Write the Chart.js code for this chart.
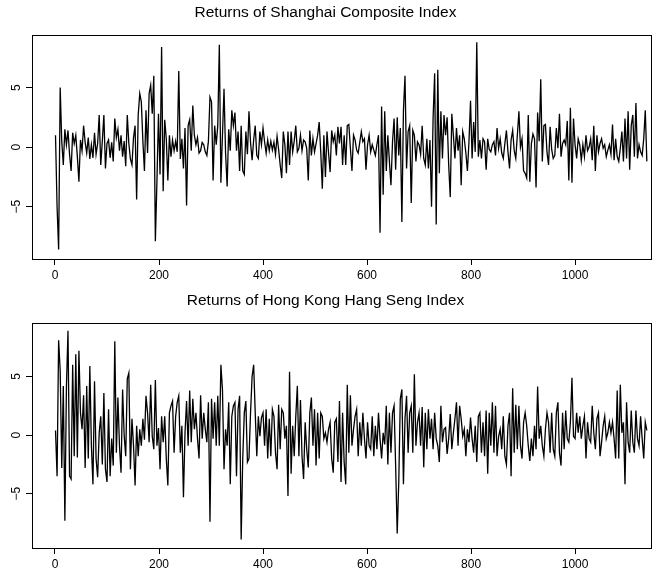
<!DOCTYPE html>
<html>
<head>
<meta charset="utf-8">
<script src="https://cdn.jsdelivr.net/npm/chart.js@4.4.1/dist/chart.umd.min.js"></script>
<style>
  html, body { margin: 0; padding: 0; background: #fff; }
  #wrap { position: relative; width: 660px; height: 571px; overflow: hidden; }
  canvas { position: absolute; left: 0; }
  #chartTop { top: 0; }
  #chartBottom { top: 288px; }
</style>
</head>
<body>
<div id="wrap">
  <canvas id="chartTop" width="660" height="290"></canvas>
  <canvas id="chartBottom" width="660" height="283"></canvas>
</div>
<script>
// one value every 3 trading days (day 1 .. 1138)
const stepDays = 3;

const titles = ['Returns of Shanghai Composite Index', 'Returns of Hong Kong Hang Seng Index'];
const xTickValues = [0, 200, 400, 600, 800, 1000];
const yTickValues = [-5, 0, 5];

const shanghaiReturns = [
  1.0, -5.0, -8.6, 5.0, 0.5, -1.5, 1.5, 0.2, 1.4, -0.6,
  -2.0, 1.2, 0.3, 1.0, -0.8, -2.9, 0.6, -0.3, 1.8, 0.4,
  -0.5, 0.8, -1.0, 0.2, -0.9, 1.2, -0.6, 0.3, 2.7, -1.5,
  0.5, 2.7, -1.8, 0.3, 0.6, -0.9, 0.4, -1.2, 2.4, 0.8,
  1.5, -0.3, 1.0, -0.8, 0.5, -1.6, 2.7, 0.3, -1.0, -1.5,
  0.8, 1.8, -4.4, 2.7, 4.5, 3.8, 0.5, -2.0, 3.1, -0.5,
  4.5, 5.2, 2.8, 6.0, -7.9, -2.9, 2.8, -2.3, 8.4, -3.7,
  2.3, 0.7, -2.8, 1.0, -0.8, 0.6, -0.3, 0.5, -0.4, 6.4,
  -1.0, 0.7, -1.8, 1.6, -4.9, 1.8, 2.3, -0.3, 3.5, 1.0,
  0.2, 0.8, -0.5, -0.3, 0.4, 0.2, -0.4, -0.7, 0.5, 4.2,
  3.8, -2.8, 1.8, 0.2, 1.8, 8.6, -3.0, 1.0, 4.9, -0.5,
  -3.3, 1.5, -0.3, 3.1, 1.8, 2.9, -0.3, 1.3, -2.0, 1.8,
  -2.0, -2.3, 1.3, -0.6, 3.0, 0.4, -1.1, 0.6, 1.8, -0.7,
  -0.95, 1.3, 0.2, 1.6, 0.45, -0.5, 0.6, -0.3, 0.5, -0.25,
  0.4, -0.6, 0.9, -0.2, -1.5, -2.6, 1.3, 0.2, -2.2, 1.3,
  -1.5, 1.3, -0.4, 0.5, 1.8, -0.4, -0.1, 1.0, -0.3, 0.6,
  0.45, -0.1, -2.8, 1.4, -0.7, 0.7, -0.4, 0.3, 1.0, 2.1,
  -0.4, -3.5, 1.0, -2.5, 1.3, -0.5, -2.1, 1.4, 0.45, 1.0,
  -0.7, 1.7, 0.3, 1.7, -1.5, 1.0, -1.5, 1.8, 1.9, -0.1,
  -2.0, 1.0, 0.6, -0.25, -0.5, 0.4, 1.3, 0.45, 0.7, -1.9,
  0.2, 1.0, -0.4, 0.2, -0.25, -0.7, 0.2, 1.0, -7.2, 3.4,
  -4.0, 3.0, -2.0, 1.0, -1.2, -3.2, 0.45, 2.4, -1.9, 2.5,
  -0.7, 1.6, -6.3, 3.1, 6.0, -1.8, 1.3, 1.8, -4.7, 1.4,
  1.0, -1.2, 0.45, 0.2, -0.6, 1.8, -0.95, -1.5, 0.7, -1.8,
  0.6, -5.0, 2.4, 6.2, -6.5, 6.5, -2.2, 3.0, -0.95, 2.7,
  1.0, 2.5, -1.5, -4.2, 2.8, 1.0, -0.95, 1.6, -0.3, 1.0,
  -3.2, 1.3, 0.7, -0.5, -2.0, 0.45, 3.9, -0.95, 2.1, -0.4,
  8.8, -0.8, 0.6, -0.95, 0.7, 0.45, -1.9, 0.7, -0.2, -0.4,
  0.2, 0.45, -0.7, 1.6, -0.1, 0.7, -0.5, -0.95, 0.3, 1.4,
  -0.4, -1.8, 0.6, 1.4, -0.3, -0.95, 1.0, 3.0, 0.0, 0.7,
  -2.0, -2.2, -2.6, 2.7, -2.9, 0.3, 1.1, 0.7, -3.4, 2.9,
  0.5, 5.7, -1.2, 1.8, 1.9, -0.4, -1.5, 1.7, -0.2, -0.95,
  -0.7, 1.6, -0.1, 2.8, -0.8, 0.3, 0.6, 0.2, 2.2, -2.8,
  3.3, -3.0, 2.4, 0.2, -0.95, 0.7, 0.2, -1.1, 0.2, -0.8,
  1.0, -0.3, 0.0, 0.7, -1.1, 1.8, -2.0, 1.0, -0.4, 0.3,
  0.7, -0.1, 0.2, -0.8, -0.25, 0.2, -0.6, 1.9, -1.1, 0.7,
  -0.8, -1.2, -0.1, 1.3, -1.2, 2.4, -0.95, 3.0, -1.9, 1.8,
  2.7, -0.8, 3.7, -0.95, 0.2, -0.4, -0.7, 0.7, 3.1, -1.2
];

const hangSengReturns = [
  0.4, -3.5, 8.1, 5.5, -2.8, 4.2, -7.3, 4.1, 8.9, -3.5,
  -3.75, 6.0, -1.8, 6.9, -1.9, 7.2, 1.9, 0.5, 3.4, -2.8,
  4.2, -2.0, 5.9, -0.9, -4.2, 4.6, -2.0, -3.6, 0.2, 1.6,
  -2.5, 3.6, -2.9, -4.0, 2.2, -3.5, -0.3, -2.6, 8.0, -1.5,
  3.2, -0.9, -3.2, 3.9, 0.0, -1.8, 4.8, 5.3, -2.9, 1.4,
  -0.9, -4.3, 0.8, -1.8, 0.5, -0.9, 1.4, -0.4, 3.35, 1.9,
  -0.6, 4.3, -0.1, -1.2, 4.7, -0.9, 0.6, -2.9, 1.6, -0.6,
  1.6, -2.0, -4.3, 1.9, 2.5, 2.9, -1.5, 1.6, 2.8, 3.35,
  -1.5, 0.8, -5.3, 0.2, 2.9, -0.9, 3.8, -0.6, 3.1, 0.5,
  1.9, -0.3, -2.0, 3.4, -0.3, 1.9, 0.5, -0.6, 2.8, -7.4,
  3.1, -0.3, 2.8, -0.9, 3.35, -0.9, 6.0, 3.9, -2.9, 0.5,
  -0.9, 2.8, -4.2, 1.6, 2.5, 2.8, -3.5, 2.2, 3.35, -8.9,
  -2.0, 1.9, 2.9, -2.3, -2.0, 1.9, 5.0, 6.0, 1.9, -1.8,
  1.6, -0.1, 1.5, 1.9, -0.9, 2.2, -2.0, 1.4, -1.8, 2.2,
  1.6, -1.5, -2.9, 2.6, -1.2, 2.2, 1.9, -0.3, 0.8, -5.2,
  5.4, -3.3, 0.8, -1.8, 1.6, 4.2, -1.8, 3.0, -1.8, -3.75,
  1.1, -1.2, -2.75, 1.9, 3.2, -0.9, 2.2, -2.6, 1.9, -2.0,
  1.9, 1.6, -0.3, 0.2, -0.6, 0.5, 1.1, -2.0, -3.2, 1.1,
  1.4, -2.3, 2.9, -4.0, 1.9, -2.3, -4.2, 4.3, -1.5, 3.4,
  -0.9, 0.5, 1.6, 2.2, -1.8, 1.1, -0.9, 1.9, -0.3, -2.0,
  1.1, -0.9, -1.2, 1.6, -1.8, 0.8, -1.2, 1.9, -0.3, -2.0,
  0.2, -0.8, 2.5, -2.5, 1.9, -1.5, 1.9, 2.5, -2.6, -8.4,
  -4.0, 3.1, 3.9, -4.2, 1.4, 3.35, -1.5, 1.9, 2.5, -1.5,
  5.2, -0.9, 1.1, 1.9, -0.9, 2.4, -2.75, 1.9, -1.2, 2.2,
  -0.3, 1.4, -1.2, 1.9, -0.3, -0.9, -2.3, 2.5, -0.6, 0.5,
  0.65, -1.6, -0.3, 1.8, -1.2, 0.2, 1.4, 2.8, -0.9, 2.5,
  1.4, -0.1, 0.5, -1.8, 0.5, -0.6, 1.5, -0.3, -1.5, 0.8,
  -2.3, 1.6, 1.9, -1.5, 1.1, -1.8, 2.1, -3.3, 1.9, -0.9,
  2.8, -1.5, 2.5, -1.8, -0.1, 0.5, -1.2, 1.6, -1.8, -2.5,
  0.8, 1.9, -3.5, 4.0, -1.5, 2.6, -1.2, 2.5, -0.9, -2.0,
  1.1, 1.9, 0.8, -0.9, -2.2, -0.3, -1.8, 0.8, -1.2, 4.15,
  -0.3, 0.8, -0.9, -1.8, 0.5, 1.9, 1.1, -1.5, 1.9, -1.2,
  -1.8, 1.9, 2.8, -1.5, -2.6, 1.9, -1.2, 2.1, -0.3, -0.6,
  1.1, 4.9, -0.1, -0.3, 1.9, 0.2, 1.6, -0.3, 0.8, 1.6,
  -2.0, 1.1, -0.3, -0.6, 2.5, 0.2, -1.2, 1.4, 1.9, -1.8,
  -0.6, 0.8, 1.6, -0.3, 0.2, 1.1, 0.2, 1.1, -0.3, -2.0,
  3.8, -2.0, 4.3, 0.2, 1.1, -4.2, 2.8, -0.6, -1.5, 2.1,
  -0.6, -1.5, 2.1, -0.3, -0.9, 1.6, -0.3, -2.0, 1.1, 0.4
];

// box round the plotting region, like R's box()
const boxPlugin = {
  id: 'plotBox',
  afterDraw(chart) {
    const a = chart.chartArea;
    const ctx = chart.ctx;
    ctx.save();
    ctx.strokeStyle = '#000';
    ctx.lineWidth = 1;
    ctx.strokeRect(Math.round(a.left) + 0.5, Math.round(a.top) + 0.5,
      Math.round(a.right - a.left), Math.round(a.bottom - a.top));
    ctx.restore();
  }
};

function makeChart(canvasId, titleText, values, yMin, yMax, xAxisHeight) {
  const ctx = document.getElementById(canvasId).getContext('2d');
  const points = values.map((v, i) => ({ x: 1 + i * stepDays, y: v }));
  return new Chart(ctx, {
    type: 'line',
    data: {
      datasets: [{
        data: points,
        borderColor: '#000',
        borderWidth: 1.3,
        pointRadius: 0,
        tension: 0,
        fill: false
      }]
    },
    options: {
      responsive: false,
      animation: false,
      devicePixelRatio: 1,
      layout: { padding: { top: 0, left: 0, right: 9, bottom: 0 } },
      plugins: {
        legend: { display: false },
        tooltip: { enabled: false },
        title: {
          display: true,
          text: titleText,
          color: '#000',
          font: { family: 'Liberation Sans, Arial, sans-serif', size: 15.5, weight: 'normal' },
          padding: { top: 3, bottom: 13 }
        }
      },
      scales: {
        x: {
          type: 'linear',
          min: -44.2,
          max: 1146,
          afterBuildTicks: s => { s.ticks = xTickValues.map(v => ({ value: v })); },
          afterFit: s => { s.height = xAxisHeight; },
          grid: { drawOnChartArea: false, drawTicks: true, tickLength: 6, color: '#000', tickColor: '#000' },
          border: { display: false },
          ticks: {
            color: '#000',
            padding: 3,
            maxRotation: 0,
            font: { family: 'Liberation Sans, Arial, sans-serif', size: 12 },
            callback: v => String(v)
          }
        },
        y: {
          type: 'linear',
          min: yMin,
          max: yMax,
          afterBuildTicks: s => { s.ticks = yTickValues.map(v => ({ value: v })); },
          afterFit: s => { s.width = 32; },
          grid: { drawOnChartArea: false, drawTicks: true, tickLength: 6, color: '#000', tickColor: '#000' },
          border: { display: false },
          ticks: {
            color: '#000',
            padding: 2,
            minRotation: 90,
            maxRotation: 90,
            crossAlign: 'center',
            font: { family: 'Liberation Sans, Arial, sans-serif', size: 12 },
            callback: v => (v < 0 ? '\u2212' + Math.abs(v) : String(v))
          }
        }
      }
    },
    plugins: [boxPlugin]
  });
}

makeChart('chartTop', titles[0], shanghaiReturns, -9.4, 9.45, 31);
makeChart('chartBottom', titles[1], hangSengReturns, -9.63, 9.6, 23);
</script>
</body>
</html>
